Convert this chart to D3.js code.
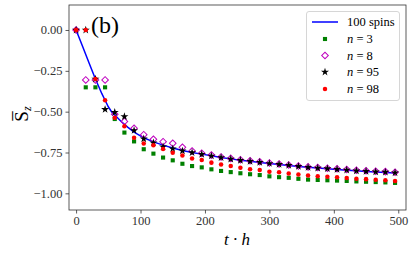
<!DOCTYPE html>
<html>
<head>
<meta charset="utf-8">
<script src="https://cdn.jsdelivr.net/npm/d3@7"></script>
<style>
body { margin: 0; background: #fff; }
svg text { font-family: "Liberation Serif", "DejaVu Serif", "Times New Roman", serif; }
</style>
</head>
<body>
<div class="graph"></div>
<script>
// sample times of the n-spin series
var times = [0,15,30,45,60,75,90,105,120,135,150,165,180,195,210,225,240,255,270,285,300,315,330,345,360,375,390,405,420,435,450,465,480,495];

var n3 = [0,-0.351,-0.351,-0.351,-0.545,-0.628,-0.682,-0.730,-0.757,-0.781,-0.798,-0.819,-0.833,-0.841,-0.853,-0.863,-0.870,-0.877,-0.883,-0.888,-0.896,-0.901,-0.905,-0.911,-0.916,-0.918,-0.920,-0.922,-0.924,-0.927,-0.929,-0.931,-0.933,-0.936];
var n8 = [0,-0.306,-0.306,-0.306,-0.516,-0.560,-0.602,-0.641,-0.669,-0.684,-0.694,-0.718,-0.741,-0.755,-0.766,-0.777,-0.786,-0.794,-0.801,-0.807,-0.814,-0.820,-0.826,-0.833,-0.838,-0.842,-0.846,-0.850,-0.854,-0.859,-0.862,-0.865,-0.867,-0.871];
var n95 = [0,0,-0.300,-0.486,-0.504,-0.530,-0.615,-0.666,-0.690,-0.715,-0.727,-0.740,-0.751,-0.761,-0.771,-0.781,-0.790,-0.798,-0.804,-0.810,-0.817,-0.823,-0.828,-0.835,-0.841,-0.845,-0.849,-0.853,-0.857,-0.862,-0.865,-0.868,-0.870,-0.874];
var n98 = [0,0,-0.300,-0.430,-0.537,-0.590,-0.660,-0.695,-0.705,-0.728,-0.751,-0.768,-0.786,-0.796,-0.812,-0.823,-0.833,-0.843,-0.852,-0.857,-0.868,-0.871,-0.879,-0.885,-0.891,-0.895,-0.898,-0.902,-0.906,-0.911,-0.913,-0.917,-0.920,-0.925];

// 100 spins curve
var lineT = [0,10,20,30,40,45,50,55,60,70,80,90,105,120,135,150,165,180,195,210,225,240,255,270,285,300,315,330,345,360,375,390,405,420,435,450,465,480,495];
var lineV = [0,-0.10,-0.20,-0.30,-0.39,-0.43,-0.47,-0.50,-0.52,-0.56,-0.595,-0.625,-0.66,-0.685,-0.705,-0.722,-0.738,-0.750,-0.760,-0.770,-0.780,-0.789,-0.797,-0.804,-0.811,-0.818,-0.824,-0.829,-0.835,-0.840,-0.845,-0.850,-0.854,-0.858,-0.862,-0.866,-0.869,-0.872,-0.875];

var xTicks = [0,100,200,300,400,500];
var yTicks = [0,-0.25,-0.5,-0.75,-1];
var legendLabels = ["100 spins","3","8","95","98"];

const width = 415;
const height = 254;
const pLeft = 69, pRight = 406, pTop = 5, pBottom = 210;
const serif = "'Liberation Serif', 'DejaVu Serif', serif";

var svg = d3.select(".graph")
    .append("svg")
    .attr("width", width)
    .attr("height", height)
    .attr("font-family", serif);

var scaleX = d3.scaleLinear().domain([-11, 512]).range([pLeft, pRight]);
var scaleY = d3.scaleLinear().domain([-1.102, 0.153]).range([pBottom, pTop]);

var fmtY = function(d){ return d3.format(".2f")(d).replace("-", "\u2212"); };

// axes
var xAxis = d3.axisBottom(scaleX).tickValues(xTicks).tickSize(3.5).tickPadding(3);
var gx = svg.append("g")
    .attr("transform", "translate(0," + pBottom + ")")
    .call(xAxis);
var yAxis = d3.axisLeft(scaleY).tickValues(yTicks).tickSize(3.5).tickPadding(3).tickFormat(fmtY);
var gy = svg.append("g")
    .attr("transform", "translate(" + pLeft + ",0)")
    .call(yAxis);
[gx, gy].forEach(function(g){
    g.attr("font-family", serif).attr("font-size", 12.5);
    g.select(".domain").remove();
    g.selectAll("line").attr("stroke", "#333").attr("stroke-width", 0.8);
    g.selectAll("text").attr("fill", "#333");
});

// 100 spins line
var line = d3.line()
    .x(function(d, i){ return scaleX(lineT[i]); })
    .y(function(d){ return scaleY(d); });
svg.append("path")
    .datum(lineV)
    .attr("d", line)
    .attr("fill", "none")
    .attr("stroke", "#0000ff")
    .attr("stroke-width", 1.5);

var series = [
    {vals: n3, type: d3.symbolSquare, size: 17, fill: "#008000", stroke: "none", rot: 0},
    {vals: n8, type: d3.symbolSquare, size: 22, fill: "none", stroke: "#bf00bf", rot: 45},
    {vals: n95, type: d3.symbolStar, size: 20, fill: "#000", stroke: "none", rot: 0},
    {vals: n98, type: d3.symbolCircle, size: 16, fill: "#ff0000", stroke: "none", rot: 0}
];

series.forEach(function(s){
    svg.append("g").selectAll("path")
        .data(s.vals)
        .enter()
        .append("path")
        .attr("d", d3.symbol().type(s.type).size(s.size))
        .attr("transform", function(d, i){
            return "translate(" + scaleX(times[i]) + "," + scaleY(d) + ") rotate(" + s.rot + ")";
        })
        .attr("fill", s.fill)
        .attr("stroke", s.stroke)
        .attr("stroke-width", 1);
});

// frame
svg.append("rect")
    .attr("x", pLeft).attr("y", pTop)
    .attr("width", pRight - pLeft).attr("height", pBottom - pTop)
    .attr("fill", "none").attr("stroke", "#333").attr("stroke-width", 0.8);

// panel label
svg.append("text")
    .attr("x", 91).attr("y", 33)
    .attr("font-size", 24)
    .text("(b)");

// axis labels
svg.append("text")
    .attr("x", 237).attr("y", 245)
    .attr("text-anchor", "middle")
    .attr("font-size", 17)
    .attr("font-style", "italic")
    .text("t \u00b7 h");

var yl = svg.append("text")
    .attr("transform", "translate(28,114) rotate(-90)")
    .attr("text-anchor", "middle")
    .attr("font-size", 19);
yl.append("tspan").text("S\u0305");
yl.append("tspan").attr("font-size", 12).attr("font-style", "italic").attr("dy", 3).text("z");

// legend
var lg = svg.append("g");
lg.append("rect")
    .attr("x", 306.5).attr("y", 11.5)
    .attr("width", 93).attr("height", 89)
    .attr("rx", 2.5)
    .attr("fill", "#fff").attr("fill-opacity", 0.8)
    .attr("stroke", "#ccc").attr("stroke-width", 0.8);

var rowY = [22, 39, 55.5, 72, 89];
lg.append("line")
    .attr("x1", 312).attr("x2", 338).attr("y1", rowY[0]).attr("y2", rowY[0])
    .attr("stroke", "#0000ff").attr("stroke-width", 1.5);

series.forEach(function(s, i){
    lg.append("path")
        .attr("d", d3.symbol().type(s.type).size(s.size))
        .attr("transform", "translate(325," + rowY[i + 1] + ") rotate(" + s.rot + ")")
        .attr("fill", s.fill)
        .attr("stroke", s.stroke)
        .attr("stroke-width", 1);
});

legendLabels.forEach(function(l, i){
    var t = lg.append("text")
        .attr("x", 347).attr("y", rowY[i] + 4)
        .attr("font-size", 12.5);
    if (i === 0) {
        t.text(l);
    } else {
        t.append("tspan").attr("font-style", "italic").text("n");
        t.append("tspan").text(" = " + l);
    }
});
</script>
</body>
</html>
